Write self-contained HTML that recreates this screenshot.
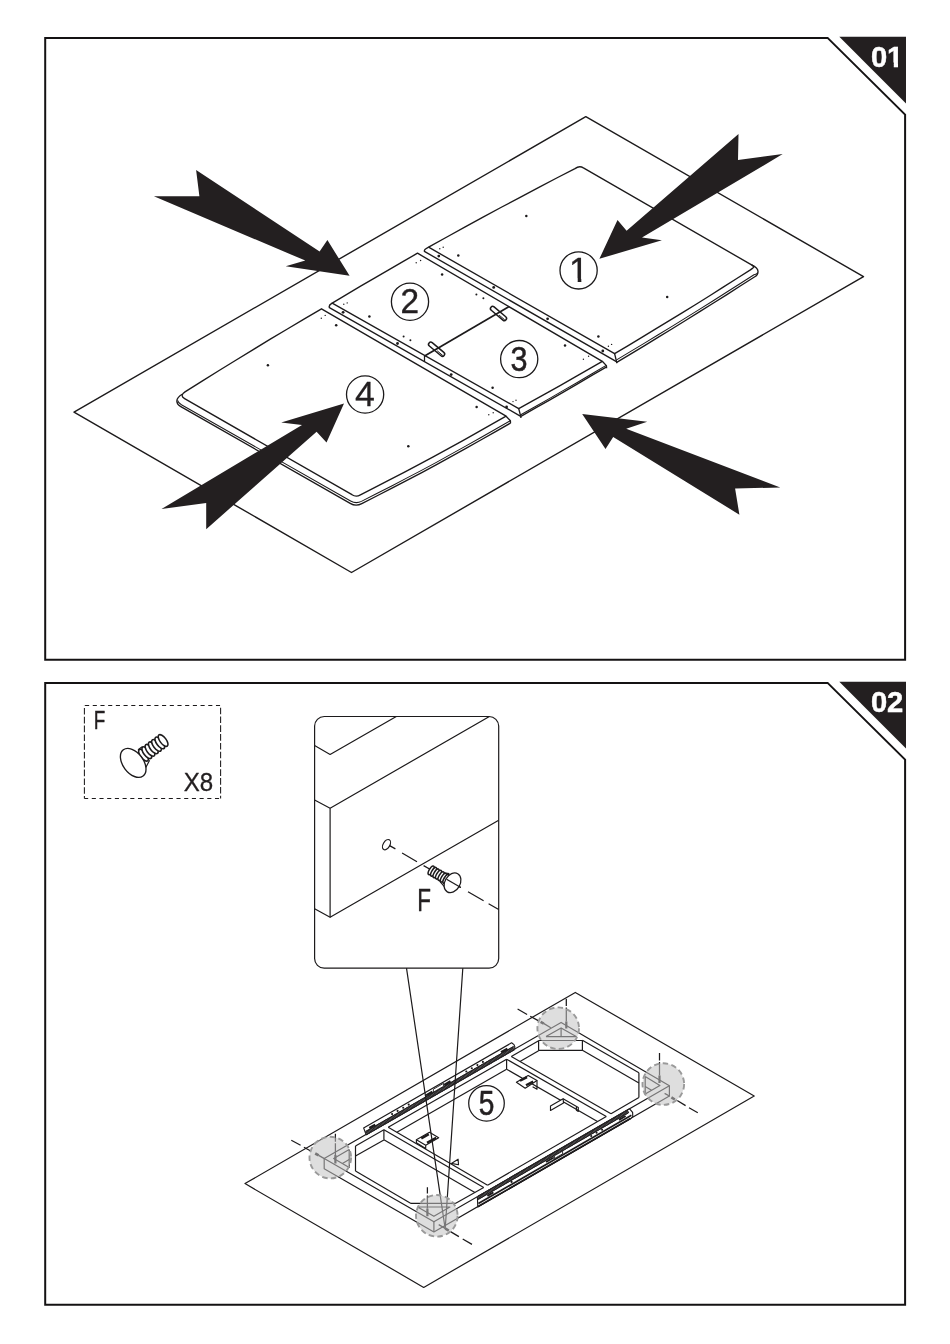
<!DOCTYPE html>
<html lang="en">
<head>
<meta charset="utf-8">
<title>Assembly instructions - steps 01 and 02</title>
<style>
html,body{margin:0;padding:0;background:#fff;}
body{width:950px;height:1344px;overflow:hidden;}
svg{display:block;will-change:transform;}
svg text{font-family:"Liberation Sans",sans-serif;}
</style>
</head>
<body>
<svg width="950" height="1344" viewBox="0 0 950 1344" stroke-linejoin="round" stroke-linecap="butt">
<rect x="0" y="0" width="950" height="1344" fill="#ffffff"/>
<!-- step frames -->
<clipPath id="nofoot"><path d="M860 30 H898.0 V68 H893.8 V62.5 H887.5 V68 H860 Z"/></clipPath>
<g>
<path d="M827.6 37.9 H45.2 V659.8 H905.1 V114.6 Z" fill="none" stroke="#141213" stroke-width="2" stroke-linejoin="miter"/>
<polygon points="839.3,36.8 906,36.8 906,103.4" fill="#231f20"/>
<text x="870.9" y="66.65" font-size="29.2" font-weight="bold" fill="#ffffff" stroke="#ffffff" stroke-width="0.5" stroke-linejoin="miter" clip-path="url(#nofoot)">01</text>
</g>
<g>
<path d="M827.6 682.9 H45.2 V1304.8 H905.1 V759.6 Z" fill="none" stroke="#141213" stroke-width="2" stroke-linejoin="miter"/>
<polygon points="839.3,681.8 906,681.8 906,748.4" fill="#231f20"/>
<text x="870.9" y="711.65" font-size="29.2" font-weight="bold" fill="#ffffff" stroke="#ffffff" stroke-width="0.5" stroke-linejoin="miter">02</text>
</g>
<!-- step 01: table top panels on protective sheet -->
<g id="step01">
<polygon points="74,412.1 585.8,116.7 863.5,276.6 351.5,572.5" fill="#fff" stroke="#1c1a1b" stroke-width="1.4"/>
<path d="M506.1 416.2 L506.1 416.2 L491.5 424.4 L477 432.7 L462.4 440.8 L447.8 448.9 L433.2 456.9 L418.7 464.7 L404.1 472.4 L389.5 479.9 L375 487.4 L360.4 494.8 Q356.1 497.4 352 494.7 L184.6 398.7 Q179.4 395.6 185 391.9 L202.1 381.1 L219.1 370.5 L236.2 360 L253.2 349.6 L270.3 339.2 L287.4 329 L304.4 318.9 L321.5 308.8 Z" fill="#fff" stroke="#1c1a1b" stroke-width="1.35"/>
<path d="M177.6 400.4 Q178.2 403.0 181.4 404.7 L350.6 501.0 Q356.0 504.0 361.4 501.4 L376.3 493.8 L391.2 486.2 L406.1 478.4 L421 470.6 L435.9 462.6 L450.7 454.4 L465.6 446.1 L480.5 437.8 L495.4 429.3 L510.3 420.8" fill="none" stroke="#1c1a1b" stroke-width="1.05"/>
<path d="M182.6 394.0 Q176.4 397.6 176.9 401.6 Q177.0 404.4 180.4 406.4 L350.2 503.4 Q356.0 506.8 361.8 503.6 L376.7 496 L391.5 488.4 L406.4 480.7 L421.3 472.9 L436.1 464.8 L451 456.6 L465.9 448.4 L480.8 440 L495.6 431.6 L510.5 423.1" fill="none" stroke="#1c1a1b" stroke-width="1.35"/>
<path d="M506.1 416.2 L510.4 420.8 L510.5 423.3" fill="none" stroke="#1c1a1b" stroke-width="1.35"/>
<path d="M332.2 303.1 L346.4 294.6 L360.6 286.2 L374.9 277.9 L389.1 269.6 L403.3 261.4 L417.5 253.2 L602.3 361.3 L588.4 369.4 L574.4 377.3 L560.5 385.3 L546.6 393.1 L532.6 400.9 L518.7 408.6 Z" fill="#fff" stroke="#1c1a1b" stroke-width="1.35"/>
<path d="M332.2 303.1 Q328.4 305.0 329.4 307.7 L520.7 416.3" fill="none" stroke="#1c1a1b" stroke-width="1.35"/>
<path d="M518.7 408.6 L520.8 416.6 L520.9 418.0" fill="none" stroke="#1c1a1b" stroke-width="1.35"/>
<path d="M520.8 414.7 L535 406.7 L549.3 398.6 L563.5 390.4 L577.7 382.2 L592 373.8 L606.2 365.4" fill="none" stroke="#1c1a1b" stroke-width="1.05"/>
<path d="M520.9 416.3 L535.2 408.2 L549.5 400.1 L563.8 391.9 L578 383.6 L592.3 375.2 L606.6 366.8" fill="none" stroke="#1c1a1b" stroke-width="1.35"/>
<path d="M602.3 361.3 L606.4 365.6 L606.6 368.2" fill="none" stroke="#1c1a1b" stroke-width="1.35"/>
<line x1="424.6" y1="355.9" x2="509.2" y2="306.6" stroke="#1c1a1b" stroke-width="1.7"/>
<line x1="424.5" y1="355.9" x2="424.5" y2="361.6" stroke="#1c1a1b" stroke-width="1.25"/>
<rect x="426.8" y="347" width="19.6" height="4.4" rx="2.2" ry="2.2" fill="none" stroke="#1c1a1b" stroke-width="1.5" transform="rotate(40 436.6 349.2)"/>
<path d="M437.2 350.8 l5.6 4.7" fill="none" stroke="#1c1a1b" stroke-width="1" transform="rotate(0)"/>
<rect x="488.7" y="311.3" width="19.6" height="4.4" rx="2.2" ry="2.2" fill="none" stroke="#1c1a1b" stroke-width="1.5" transform="rotate(40 498.5 313.5)"/>
<path d="M499.1 315.1 l5.6 4.7" fill="none" stroke="#1c1a1b" stroke-width="1" transform="rotate(0)"/>
<path d="M428.6 247.2 L446.9 237 L465.2 226.9 L483.5 216.9 L501.8 207 L520.1 197.3 L538.4 187.6 L556.7 178 L575 168.6 Q579.4 165.4 583.4 167.9 L751.6 264.9 Q755.0 266.8 752.4 268.4 L750.4 269.9 L736.8 278.5 L723.2 287.1 L709.7 295.7 L696.1 304.2 L682.5 312.6 L668.9 320.9 L655.3 329.2 L641.8 337.4 L628.2 345.6 L614.6 353.7 Z" fill="#fff" stroke="#1c1a1b" stroke-width="1.35"/>
<path d="M428.6 247.2 Q423.8 249.6 424.4 251.4 L616.4 361.6" fill="none" stroke="#1c1a1b" stroke-width="1.35"/>
<path d="M614.6 353.7 L616.6 361.8 L616.7 363.2" fill="none" stroke="#1c1a1b" stroke-width="1.35"/>
<path d="M616.6 359.9 L630.3 351.6 L644.1 343.4 L657.8 335 L671.6 326.6 L685.3 318.1 L699 309.6 L712.8 301 L726.5 292.3 L740.3 283.5 L754 274.7 Q757.6 274.0 757.6 272.6" fill="none" stroke="#1c1a1b" stroke-width="1.05"/>
<path d="M616.7 362.3 L630.5 354.1 L644.2 345.8 L658 337.4 L671.8 329 L685.5 320.5 L699.3 311.9 L713.1 303.3 L726.9 294.6 L740.6 285.8 L754.4 277 Q758.2 275.0 758.0 271.2 Q757.8 267.8 751.6 264.9" fill="none" stroke="#1c1a1b" stroke-width="1.35"/>
<circle cx="476.4" cy="294.5" r="1.0" fill="#1c1a1b"/>
<circle cx="483.4" cy="298.3" r="1.0" fill="#1c1a1b"/>
<circle cx="403.6" cy="336.5" r="1.0" fill="#1c1a1b"/>
<circle cx="410.4" cy="340.2" r="1.0" fill="#1c1a1b"/>
<circle cx="526.3" cy="216" r="1.25" fill="#1c1a1b"/>
<circle cx="667.2" cy="297" r="1.25" fill="#1c1a1b"/>
<circle cx="598.4" cy="336.4" r="1.25" fill="#1c1a1b"/>
<circle cx="565" cy="345.5" r="1.25" fill="#1c1a1b"/>
<circle cx="458.3" cy="255.4" r="1.25" fill="#1c1a1b"/>
<circle cx="442.1" cy="274.6" r="1.25" fill="#1c1a1b"/>
<circle cx="369.4" cy="316.6" r="1.25" fill="#1c1a1b"/>
<circle cx="492.6" cy="387.8" r="1.25" fill="#1c1a1b"/>
<circle cx="267.9" cy="365.3" r="1.25" fill="#1c1a1b"/>
<circle cx="408.3" cy="446.3" r="1.25" fill="#1c1a1b"/>
<circle cx="476.6" cy="407.1" r="1.25" fill="#1c1a1b"/>
<circle cx="336.2" cy="325.3" r="1.25" fill="#1c1a1b"/>
<circle cx="438.8" cy="256.1" r="1.4" fill="#1c1a1b"/>
<circle cx="493.7" cy="287.4" r="1.4" fill="#1c1a1b"/>
<circle cx="547.6" cy="318.8" r="1.4" fill="#1c1a1b"/>
<circle cx="602.8" cy="351" r="1.4" fill="#1c1a1b"/>
<circle cx="343.1" cy="312.3" r="1.4" fill="#1c1a1b"/>
<circle cx="397.5" cy="343.5" r="1.4" fill="#1c1a1b"/>
<circle cx="451.2" cy="374.6" r="1.4" fill="#1c1a1b"/>
<circle cx="506.6" cy="407" r="1.4" fill="#1c1a1b"/>
<circle cx="608.4" cy="346.2" r="0.7" fill="#1c1a1b"/>
<circle cx="611.6" cy="344.4" r="0.7" fill="#1c1a1b"/>
<circle cx="439.8" cy="248.7" r="0.7" fill="#1c1a1b"/>
<circle cx="443.2" cy="247.3" r="0.7" fill="#1c1a1b"/>
<circle cx="416.2" cy="262.8" r="0.7" fill="#1c1a1b"/>
<circle cx="420.6" cy="260.5" r="0.7" fill="#1c1a1b"/>
<circle cx="343.8" cy="304.3" r="0.7" fill="#1c1a1b"/>
<circle cx="347.2" cy="302.9" r="0.7" fill="#1c1a1b"/>
<circle cx="583.4" cy="359.2" r="0.7" fill="#1c1a1b"/>
<circle cx="588.6" cy="356.2" r="0.7" fill="#1c1a1b"/>
<circle cx="513" cy="401.6" r="0.7" fill="#1c1a1b"/>
<circle cx="516" cy="400.2" r="0.7" fill="#1c1a1b"/>
<circle cx="321.3" cy="318.2" r="0.7" fill="#1c1a1b"/>
<circle cx="325.2" cy="315.4" r="0.7" fill="#1c1a1b"/>
<circle cx="488.8" cy="414.8" r="0.7" fill="#1c1a1b"/>
<circle cx="493.2" cy="412.8" r="0.7" fill="#1c1a1b"/>
<clipPath id="noserif"><path d="M2 -26 H12.2 V0.5 H8.62 V-3 H2 Z"/></clipPath>
<circle cx="578.6" cy="270.4" r="18.6" fill="#fff" stroke="#1c1a1b" stroke-width="1.3"/>
<text transform="translate(569.1 281.6)" font-size="35.2" fill="#231f20" stroke="#231f20" stroke-width="0.4" clip-path="url(#noserif)">1</text>
<circle cx="410" cy="301.7" r="18.6" fill="#fff" stroke="#1c1a1b" stroke-width="1.3"/>
<text transform="translate(400.4 312.8) scale(0.927 1)" font-size="36" fill="#231f20" stroke="#231f20" stroke-width="0.40">2</text>
<circle cx="519.2" cy="359.1" r="18.6" fill="#fff" stroke="#1c1a1b" stroke-width="1.3"/>
<text transform="translate(510.6 371) scale(0.850 1)" font-size="36" fill="#231f20" stroke="#231f20" stroke-width="0.55">3</text>
<circle cx="365.1" cy="394.5" r="18.6" fill="#fff" stroke="#1c1a1b" stroke-width="1.3"/>
<text transform="translate(355.1 406) scale(0.992 1)" font-size="36" fill="#231f20" stroke="#231f20" stroke-width="0.27">4</text>
<polygon points="153.9,196.2 199.4,196.2 196.1,170 319.6,251.4 327.4,240.1 349.6,275.8 285.7,266.2 305.3,260.6" fill="#231f20"/>
<polygon points="738.5,133.9 738,159.9 782.7,154.1 642,237.6 661.9,240.3 599.4,258.8 617.5,220 626.6,230.7" fill="#231f20"/>
<polygon points="161.5,509 206.2,503.1 206.2,529.2 316.6,431.8 326.5,442.4 344,403.4 281.2,422.4 302,425" fill="#231f20"/>
<polygon points="582.2,414.1 647.2,421.7 626.2,428.8 780.3,487.4 735.1,488.6 739.4,514.7 613.2,437 605.5,449" fill="#231f20"/>
</g>
<!-- step 02: hardware box, detail callout, frame on sheet -->
<g id="step02">
<g id="hardware">
<g fill="none" stroke="#1c1a1b" stroke-width="1.05">
<path d="M84.4 705.5 H220.6" stroke-dasharray="4.1 3.6" stroke-dashoffset="7.05"/>
<path d="M84.4 798.4 H220.6" stroke-dasharray="4.1 3.6" stroke-dashoffset="0.33"/>
<path d="M84.4 705.5 V798.4" stroke-dasharray="6.6 2.2" stroke-dashoffset="6.3"/>
<path d="M220.6 705.5 V798.4" stroke-dasharray="6.6 2.2" stroke-dashoffset="6.6"/>
</g>
<text transform="translate(93.65 728.6) scale(0.727 1)" font-size="26" fill="#231f20" stroke="#231f20" stroke-width="0.4">F</text>
<text transform="translate(183.7 790.8) scale(0.927 1)" font-size="26" fill="#231f20" stroke="#231f20" stroke-width="0.3">X8</text>
<path d="M138 749.7 L142.6 746.6 M145.8 767.6 L149.6 760.2" fill="none" stroke="#1c1a1b" stroke-width="1.2"/>
<ellipse cx="143.5" cy="755.2" rx="7" ry="3.1" transform="rotate(53 143.5 755.2)" fill="#fff" stroke="#1c1a1b" stroke-width="1.6"/>
<ellipse cx="146.8" cy="752.7" rx="7" ry="3.1" transform="rotate(53 146.8 752.7)" fill="#fff" stroke="#1c1a1b" stroke-width="1.6"/>
<ellipse cx="150" cy="750.3" rx="7" ry="3.1" transform="rotate(53 150 750.3)" fill="#fff" stroke="#1c1a1b" stroke-width="1.6"/>
<ellipse cx="153.3" cy="747.8" rx="7" ry="3.1" transform="rotate(53 153.3 747.8)" fill="#fff" stroke="#1c1a1b" stroke-width="1.6"/>
<ellipse cx="156.5" cy="745.4" rx="7" ry="3.1" transform="rotate(53 156.5 745.4)" fill="#fff" stroke="#1c1a1b" stroke-width="1.6"/>
<ellipse cx="159.8" cy="742.9" rx="7" ry="3.1" transform="rotate(53 159.8 742.9)" fill="#fff" stroke="#1c1a1b" stroke-width="1.6"/>
<ellipse cx="163.1" cy="740.5" rx="7" ry="3.1" transform="rotate(53 163.1 740.5)" fill="#fff" stroke="#1c1a1b" stroke-width="1.6"/>
<ellipse cx="133.2" cy="762.9" rx="16.4" ry="10.2" transform="rotate(53 133.2 762.9)" fill="#fff" stroke="#1c1a1b" stroke-width="1.35"/>
</g>
<g id="callout">
<clipPath id="cbox"><rect x="314.6" y="716.5" width="184.1" height="251.7" rx="9.6" ry="9.6"/></clipPath>
<rect x="314.6" y="716.5" width="184.1" height="251.7" rx="9.6" ry="9.6" fill="#fff" stroke="#1c1a1b" stroke-width="1.2"/>
<g clip-path="url(#cbox)" fill="none" stroke="#1c1a1b" stroke-width="1.2">
<polyline points="314.6,745.6 330.1,754.4 396.3,716.5"/>
<polyline points="314.6,800 330.1,808.2 489.4,716.5"/>
<polyline points="330.1,808.2 330.1,917.3"/>
<polyline points="314.6,908.7 330.1,917.3 498.7,820.3"/>
</g>
<ellipse cx="386.5" cy="844.7" rx="5.6" ry="3.3" transform="rotate(-60 386.5 844.7)" fill="none" stroke="#1c1a1b" stroke-width="1.2"/>
<path d="M389.6 845.6 L395.4 848.9 M402.1 853.0 L417.0 861.7 M423.6 865.6 L430 869.2 M446.6 879.2 L460.8 887.5 M468 891.8 L483.6 900.8 M488.6 903.7 L498.7 909.5" fill="none" stroke="#1c1a1b" stroke-width="1.25"/>
<path d="M443.6 872.8 L449.4 873.6 M439.6 881.2 L446.0 888.6" fill="none" stroke="#1c1a1b" stroke-width="1.1"/>
<ellipse cx="431.2" cy="870.4" rx="4.9" ry="2" transform="rotate(-60 431.2 870.4)" fill="#fff" stroke="#1c1a1b" stroke-width="1.55"/>
<ellipse cx="433.7" cy="871.8" rx="4.9" ry="2" transform="rotate(-60 433.7 871.8)" fill="#fff" stroke="#1c1a1b" stroke-width="1.55"/>
<ellipse cx="436.1" cy="873.3" rx="4.9" ry="2" transform="rotate(-60 436.1 873.3)" fill="#fff" stroke="#1c1a1b" stroke-width="1.55"/>
<ellipse cx="438.6" cy="874.7" rx="4.9" ry="2" transform="rotate(-60 438.6 874.7)" fill="#fff" stroke="#1c1a1b" stroke-width="1.55"/>
<ellipse cx="441.1" cy="876.1" rx="4.9" ry="2" transform="rotate(-60 441.1 876.1)" fill="#fff" stroke="#1c1a1b" stroke-width="1.55"/>
<ellipse cx="443.5" cy="877.6" rx="4.9" ry="2" transform="rotate(-60 443.5 877.6)" fill="#fff" stroke="#1c1a1b" stroke-width="1.55"/>
<ellipse cx="446" cy="879" rx="4.9" ry="2" transform="rotate(-60 446 879)" fill="#fff" stroke="#1c1a1b" stroke-width="1.55"/>
<ellipse cx="452.5" cy="882.8" rx="10.5" ry="7.6" transform="rotate(-60 452.5 882.8)" fill="#fff" stroke="#1c1a1b" stroke-width="1.25"/>
<path d="M446.6 879.2 L460.8 887.5" fill="none" stroke="#1c1a1b" stroke-width="1.25"/>
<text transform="translate(417.35 910.6) scale(0.703 1)" font-size="32" fill="#231f20" stroke="#231f20" stroke-width="0.4">F</text>
</g>
<polygon points="245,1183.6 575.3,992.4 754.2,1096.1 423.7,1287.4" fill="#fff" stroke="#1c1a1b" stroke-width="1.2"/>
<g id="frame" fill="none" stroke="#1c1a1b" stroke-width="1.2">
<polygon points="324.2,1158.5 561.1,1022.4 669.4,1085.8 669.4,1096 433.9,1232 324.2,1168.7" fill="#fff"/>
<polyline points="324.2,1158.5 433.9,1221.8 669.4,1085.8"/>
<polyline points="433.9,1221.8 433.9,1232"/>
<polyline points="355.5,1146 383.9,1129.7"/>
<polyline points="355.5,1171.1 411,1203.4"/>
<polyline points="455.3,1203.4 483.7,1187.5"/>
<polyline points="388.2,1127.2 506.6,1059.2"/>
<polyline points="487.6,1185.2 606.3,1116.4"/>
<polyline points="511.3,1056.5 538.6,1040.8"/>
<polyline points="582.4,1040.3 638.9,1072.8"/>
<polyline points="638.9,1097.6 611,1113.7"/>
<polyline points="355.5,1146 355.5,1171.1"/>
<polyline points="349.2,1149.6 333.7,1158.5 349.2,1167.4 349.2,1149.6"/>
<polyline points="342.4,1163.5 349.2,1159.6"/>
<polyline points="638.9,1072.8 638.9,1097.6"/>
<polyline points="645.2,1076.6 659.9,1085.4 645.2,1093.9 645.2,1076.6"/>
<polyline points="645.2,1086.5 651.5,1090.3"/>
<polyline points="546,1036.6 561.1,1027.9 576.2,1036.6 546,1036.6"/>
<polyline points="561.1,1027.9 561.1,1036.6"/>
<polyline points="538.6,1040.5 582.4,1040.5 582.4,1050.3 538.6,1050.3 538.6,1040.5"/>
<polyline points="411,1203.4 455.3,1203.4"/>
<polyline points="417.6,1207 433.9,1216.3 449.9,1207 417.6,1207"/>
<polyline points="383.9,1129.7 483.7,1187.5"/>
<polyline points="388.2,1127.2 487.6,1185.2"/>
<polyline points="506.6,1059.2 606.3,1116.4"/>
<polyline points="511.3,1056.5 611,1113.7"/>
<polyline points="383.9,1129.7 383.9,1139.7"/>
<polyline points="383.9,1139.7 474.9,1192.5"/>
<polyline points="506.6,1059.2 506.6,1069.2"/>
<polyline points="506.6,1069.2 597.5,1121.5"/>
<polyline points="355.5,1156 383.9,1140"/>
<polyline points="396.9,1132.2 506.6,1069.3"/>
<polyline points="520,1061.5 538.6,1050.8"/>
<polyline points="582.4,1050.3 638.9,1083"/>
</g>
<g id="rails" fill="none" stroke="#1c1a1b">
<polygon points="363.6,1127.9 511.6,1042.8 514,1044.6 514.8,1046.6 514.6,1049.5 366.2,1134.8" fill="#fff" stroke-width="1.15"/>
<polyline points="366.2,1133 514,1048.1" stroke-width="4.0" stroke="#6f6d6e"/>
<polyline points="366.2,1133 514,1048.1" stroke-width="4.0" stroke-dasharray="0.8 0.55"/>
<polyline points="366.2,1134.7 514.4,1049.5" stroke-width="0.9"/>
<polyline points="366,1131.3 513.8,1046.4" stroke-width="0.9"/>
<polyline points="369.3,1128 375.2,1124.6" stroke-width="2.2"/>
<polyline points="426,1095.4 432.4,1091.7" stroke-width="2.2"/>
<polyline points="444.2,1085 450.5,1081.3" stroke-width="2.2"/>
<polyline points="501,1052.3 507.4,1048.7" stroke-width="2.2"/>
<polygon points="433.4,1089.2 443.6,1083.3 443.6,1086.3 433.4,1092.2" fill="#fff" stroke-width="0.9"/>
<circle cx="392.1" cy="1114.1" r="1.05" fill="#1c1a1b" stroke="none"/>
<circle cx="397.6" cy="1110.9" r="1.05" fill="#1c1a1b" stroke="none"/>
<circle cx="403.2" cy="1107.7" r="1.05" fill="#1c1a1b" stroke="none"/>
<circle cx="408.7" cy="1104.6" r="1.05" fill="#1c1a1b" stroke="none"/>
<circle cx="466.3" cy="1071.5" r="1.05" fill="#1c1a1b" stroke="none"/>
<circle cx="471.8" cy="1068.3" r="1.05" fill="#1c1a1b" stroke="none"/>
<circle cx="477.4" cy="1065.1" r="1.05" fill="#1c1a1b" stroke="none"/>
<circle cx="482.9" cy="1061.9" r="1.05" fill="#1c1a1b" stroke="none"/>
<polygon points="477.4,1196.7 629.6,1108.8 632.6,1112.4 632.8,1116.6 630,1119.1 477.8,1206.9" fill="#fff" stroke-width="1.15"/>
<polyline points="477.8,1198.1 628.4,1111.2" stroke-width="3.5" stroke="#6f6d6e"/>
<polyline points="477.8,1198.1 628.4,1111.2" stroke-width="3.5" stroke-dasharray="0.8 0.55"/>
<polyline points="477.8,1196.5 628.6,1109.5" stroke-width="0.9"/>
<polyline points="477.8,1199.7 628.2,1112.9" stroke-width="0.9"/>
<polyline points="478.4,1203.6 631.4,1115.2" stroke-width="1.7"/>
<polyline points="478,1206.6 630.4,1118.6" stroke-width="1.7"/>
<polyline points="487.4,1195.8 493.4,1192.3" stroke-width="2.0"/>
<polyline points="546,1162 553.8,1157.5" stroke-width="2.0"/>
<polyline points="619,1119.8 625.6,1116" stroke-width="2.0"/>
<polygon points="554.4,1155.8 562.6,1151.1 562.6,1153.9 554.4,1158.6" fill="#fff" stroke-width="0.9"/>
<circle cx="511.6" cy="1181.9" r="1.05" fill="#1c1a1b" stroke="none"/>
<circle cx="591.2" cy="1136" r="1.05" fill="#1c1a1b" stroke="none"/>
<circle cx="596.6" cy="1132.8" r="1.05" fill="#1c1a1b" stroke="none"/>
<circle cx="602.1" cy="1129.7" r="1.05" fill="#1c1a1b" stroke="none"/>
</g>
<g id="brackets" fill="#fff" stroke="#1c1a1b" stroke-width="1.15">
<polygon points="416.4,1139.8 429.5,1132.3 438.7,1137.7 425.7,1145.3"/>
<polyline points="416.4,1139.8 416.4,1142.8 425.7,1148.4 425.7,1145.3" fill="none"/>
<path d="M421.3 1138.5 L428.8 1134.3 M427 1142.8 L436.2 1137.8" fill="none" stroke-width="2.4"/>
<polygon points="516.4,1082.3 528.2,1075.6 537,1080.6 525.2,1088.2"/>
<polyline points="537,1080.6 537,1089.2 532.6,1086.8" fill="none"/>
<path d="M520 1080.8 L527 1077.1 M526 1085.3 L533.2 1081.6" fill="none" stroke-width="2.4"/>
<polygon points="451.4,1163.4 458.1,1159.2 458.5,1164.7"/>
<polygon points="550.5,1105.9 563.1,1098.7 563.5,1102.9 550.5,1110.5"/>
<polyline points="563.1,1098.7 578.3,1107.6 578.3,1111.4 576.4,1110.2 576.4,1107" fill="none"/>
</g>
<path d="M406.5 968.2 L445.2 1228.8 L462.8 968.2" fill="none" stroke="#1c1a1b" stroke-width="1.2"/>
<g id="axes" fill="none" stroke="#1c1a1b" stroke-width="1.25">
<path d="M335.4 1133.8 V1141.8 M335.4 1143.2 V1155"/>
<path d="M291.3 1140.2 L300.6 1145.3 M303.9 1147.2 L311.2 1151.3 M318.6 1155.4 L324.4 1158.6"/>
<path d="M566.3 998.7 V1006 M566.3 1007.6 V1021.4"/>
<path d="M517.6 1009 L527.1 1014.5 M530.2 1016.2 L538.2 1020.6 M543.6 1023.4 L550.8 1027.8"/>
<path d="M659.5 1052.9 V1060.4 M659.5 1062 V1075.4"/>
<path d="M697.8 1112.7 L689 1107.7 M685.6 1105.6 L677.2 1100.5 M669.8 1096.3 L664.6 1093.4"/>
<path d="M427.4 1187.2 V1193.6 M427.4 1195.6 V1208.6"/>
<path d="M472 1244.4 L462.7 1239 M458.9 1236.6 L450.5 1231.6 M445.6 1228.6 L438.7 1224.6"/>
<path d="M335.4 1155 V1163.6 M566.3 1021.4 V1028.4 M659.5 1075.4 V1083 M427.4 1208.6 V1216.2" stroke-width="2.2"/>
<path d="M315.2 1153.5 L318.7 1155.4 M540.6 1021.8 L543.8 1023.6 M674.8 1099.5 L671.4 1097.4 M448.8 1230.6 L445.4 1228.6" stroke-width="2.6"/>
</g>
<g id="marks" fill="#c2c2c2" fill-opacity="0.55" stroke="#9a9a9a" stroke-width="1.9" stroke-dasharray="5.5 3.3">
<circle cx="330.3" cy="1157.6" r="20.8"/>
<circle cx="558.2" cy="1028.2" r="20.8"/>
<circle cx="663.3" cy="1084.1" r="20.8"/>
<circle cx="436.8" cy="1215.8" r="20.8"/>
</g>
<circle cx="486.5" cy="1103.3" r="17.8" fill="#fff" stroke="#1c1a1b" stroke-width="1.25"/>
<text transform="translate(478.8 1114.7) scale(0.813 1)" font-size="34.5" fill="#231f20" stroke="#231f20" stroke-width="0.62">5</text>
</g>
</svg>
</body>
</html>
